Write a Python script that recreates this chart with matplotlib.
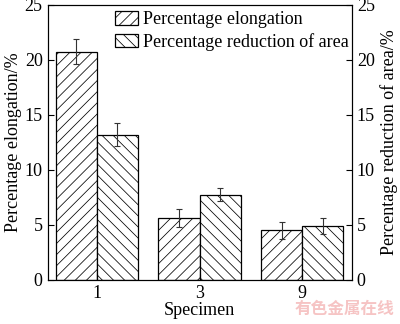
import numpy as np
import matplotlib
matplotlib.use("Agg")
import matplotlib.pyplot as plt

plt.rcParams['font.family'] = ['Liberation Serif', 'DejaVu Serif']
plt.rcParams['hatch.linewidth'] = 0.55

specimens = ["1", "3", "9"]
elongation = [20.75, 5.65, 4.5]
elongation_err = [1.15, 0.8, 0.8]
reduction = [13.2, 7.75, 4.9]
reduction_err = [1.05, 0.6, 0.7]

x = np.arange(len(specimens))
w = 0.4

fig = plt.figure(figsize=(4.0, 3.24), dpi=100)
ax = fig.add_axes([0.119, 0.136, 0.761, 0.849])

err_kw = dict(ecolor="#333333", elinewidth=0.8, capsize=2.5, capthick=0.8)
ax.bar(x - w / 2, elongation, w, yerr=elongation_err, color="white",
       edgecolor="black", linewidth=0.9, hatch="///",
       label="Percentage elongation", error_kw=err_kw)
ax.bar(x + w / 2, reduction, w, yerr=reduction_err, color="white",
       edgecolor="black", linewidth=0.9, hatch="\\\\\\",
       label="Percentage reduction of area", error_kw=err_kw)

ax.set_xlim(-0.48, 2.485)
ax.set_ylim(0, 25)
ax.set_xticks(x)
ax.set_xticklabels(specimens)
ax.set_yticks([0, 5, 10, 15, 20, 25])
ax.tick_params(direction="in", length=4, labelsize=13, width=0.8)
ax.set_xlabel("Specimen", fontsize=13, labelpad=0)
ax.set_ylabel("Percentage elongation/%", fontsize=13, labelpad=2)

ax2 = ax.twinx()
ax2.set_ylim(0, 25)
ax2.set_yticks([0, 5, 10, 15, 20, 25])
ax2.tick_params(direction="in", length=4, labelsize=13, width=0.8)
ax2.set_ylabel("Percentage reduction of area/%", fontsize=13, labelpad=4)

ax.legend(loc="upper left", bbox_to_anchor=(0.21, 0.99), frameon=False,
          fontsize=13, handlelength=1.25, handleheight=0.8,
          handletextpad=0.3, labelspacing=0.25, borderpad=0.2,
          borderaxespad=0)

fig.text(0.985, 0.045, "有色金属在线", color="#f6c4c4", fontsize=12,
         fontweight="bold", ha="right", va="center",
         family=["Noto Sans CJK SC", "DejaVu Sans"])

fig.savefig("out.png", dpi=100)
